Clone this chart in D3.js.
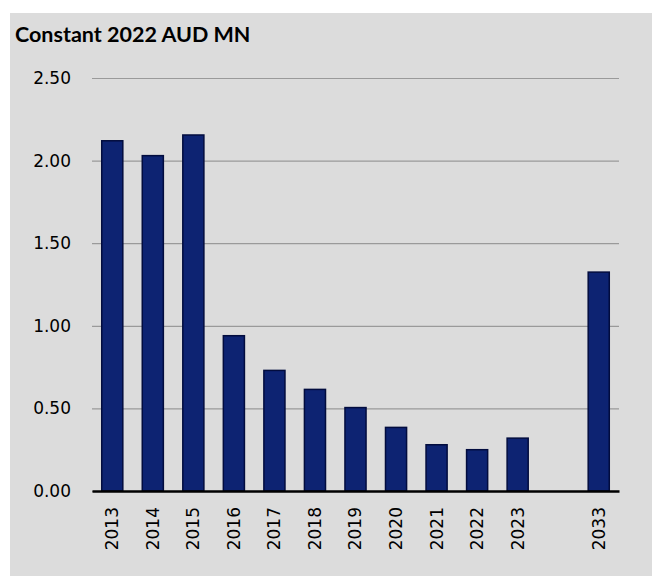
<!DOCTYPE html>
<meta charset="utf-8">
<script src="https://cdn.jsdelivr.net/npm/d3@7"></script>
<style>
    body { margin: 0; background: #fff; }
    .tick text { font-family: "DejaVu Sans", sans-serif; font-size: 17px; fill: #000; }
    .title { font: bold 21.5px Lato, sans-serif; fill: #000; }
</style>
<body>
<svg class="chart"></svg>
<script>
    // Data
    var years = ["2013", "2014", "2015", "2016", "2017", "2018", "2019", "2020", "2021", "2022", "2023", "", "2033"];
    var values = [2.12, 2.03, 2.155, 0.94, 0.73, 0.615, 0.505, 0.385, 0.28, 0.25, 0.32, null, 1.325];
    var yTicks = [0, 0.5, 1, 1.5, 2, 2.5];

    var data = years.map(function(y, i) { return { year: y, value: values[i], key: "k" + i }; });

    // Size setup
    var W = 652, H = 576;
    var svg = d3.select(".chart").attr("width", W).attr("height", H);

    svg.append("rect")
        .attr("x", 10).attr("y", 13)
        .attr("width", W - 10).attr("height", H - 13)
        .attr("fill", "#dcdcdc");

    var plot = { left: 92, right: 619, top: 78, bottom: 491 };

    var x = d3.scaleBand()
        .domain(data.map(function(d) { return d.key; }))
        .range([plot.left, plot.right])
        .paddingInner(0.48)
        .paddingOuter(0.24);

    var y = d3.scaleLinear().domain([0, 2.5]).range([plot.bottom, plot.top]);

    // Gridlines + y labels
    var yAxis = d3.axisLeft(y)
        .tickValues(yTicks)
        .tickSize(-(plot.right - plot.left))
        .tickPadding(21)
        .tickFormat(d3.format(".2f"));

    var gy = svg.append("g")
        .attr("transform", "translate(" + plot.left + ",0)")
        .call(yAxis);
    gy.select(".domain").remove();
    gy.selectAll(".tick line").attr("stroke", "#9a9a9a").attr("stroke-width", 1.2);

    // Bars
    svg.append("g")
        .selectAll("rect")
        .data(data.filter(function(d) { return d.value != null; }))
        .enter().append("rect")
        .attr("x", function(d) { return x(d.key); })
        .attr("y", function(d) { return y(d.value); })
        .attr("width", x.bandwidth())
        .attr("height", function(d) { return plot.bottom - y(d.value); })
        .attr("fill", "#0d2372")
        .attr("stroke", "#020c3e")
        .attr("stroke-width", 1.5);

    // X axis
    var xAxis = d3.axisBottom(x)
        .tickSize(0)
        .tickPadding(0)
        .tickFormat(function(k) { return data.find(function(d) { return d.key == k; }).year; });

    var gx = svg.append("g")
        .attr("transform", "translate(0," + plot.bottom + ")")
        .call(xAxis);
    gx.select(".domain").attr("stroke", "#000").attr("stroke-width", 2.5);
    gx.selectAll(".tick text")
        .attr("transform", "rotate(-90)")
        .attr("text-anchor", "end")
        .attr("x", -16)
        .attr("y", 0)
        .attr("dy", "0.35em");

    // Title
    svg.append("text")
        .attr("class", "title")
        .attr("x", 15)
        .attr("y", 42)
        .text("Constant 2022 AUD MN");
</script>
</body>
